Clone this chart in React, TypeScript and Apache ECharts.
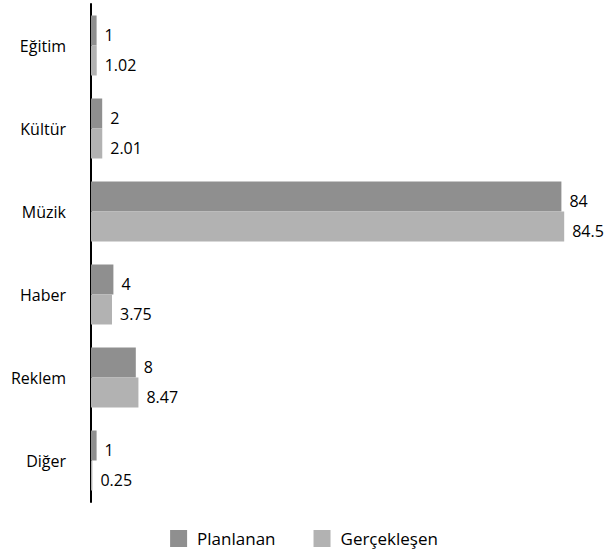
import React, { useEffect, useRef } from "react";
import * as echarts from "echarts";

const categories = ["Eğitim", "Kültür", "Müzik", "Haber", "Reklem", "Diğer"];
const planlanan = [1, 2, 84, 4, 8, 1];
const gerceklesen = [1.02, 2.01, 84.5, 3.75, 8.47, 0.25];
const seriesNames = ["Planlanan", "Gerçekleşen"];

const FONT = "Open Sans";

export default function App() {
  const ref = useRef<HTMLDivElement>(null);
  useEffect(() => {
    if (!ref.current) return;
    const chart = echarts.init(ref.current, null, { renderer: "svg" });
    const label = {
      show: true,
      position: "right" as const,
      distance: 8,
      offset: [0, 4],
      color: "#000",
      fontSize: 16,
      fontFamily: FONT,
    };
    chart.setOption({
      animation: false,
      textStyle: { fontFamily: FONT },
      grid: { left: 91, top: 4, width: 504, height: 498 },
      xAxis: {
        type: "value",
        min: 0,
        max: 90,
        show: false,
      },
      yAxis: {
        type: "category",
        data: categories,
        inverse: true,
        axisLine: { show: true, lineStyle: { color: "#000", width: 2 } },
        axisTick: { show: false },
        axisLabel: {
          color: "#000",
          fontSize: 16,
          fontFamily: FONT,
          margin: 25,
          padding: [8, 0, 0, 0],
        },
      },
      legend: {
        top: 525,
        left: "center",
        itemWidth: 17,
        itemHeight: 17,
        itemGap: 38,
        icon: "rect",
        textStyle: {
          color: "#000",
          fontSize: 17,
          fontFamily: FONT,
          padding: [0, 0, 0, 5],
        },
        data: seriesNames,
      },
      series: [
        {
          name: seriesNames[0],
          type: "bar",
          data: planlanan,
          barWidth: 30,
          barGap: "0%",
          itemStyle: { color: "#8f8f8f" },
          label,
        },
        {
          name: seriesNames[1],
          type: "bar",
          data: gerceklesen,
          barWidth: 30,
          itemStyle: { color: "#b2b2b2" },
          label,
        },
      ],
    });
    return () => chart.dispose();
  }, []);
  return (
    <div
      ref={ref}
      style={{ position: "absolute", left: 0, top: 0, width: 608, height: 554 }}
    />
  );
}
